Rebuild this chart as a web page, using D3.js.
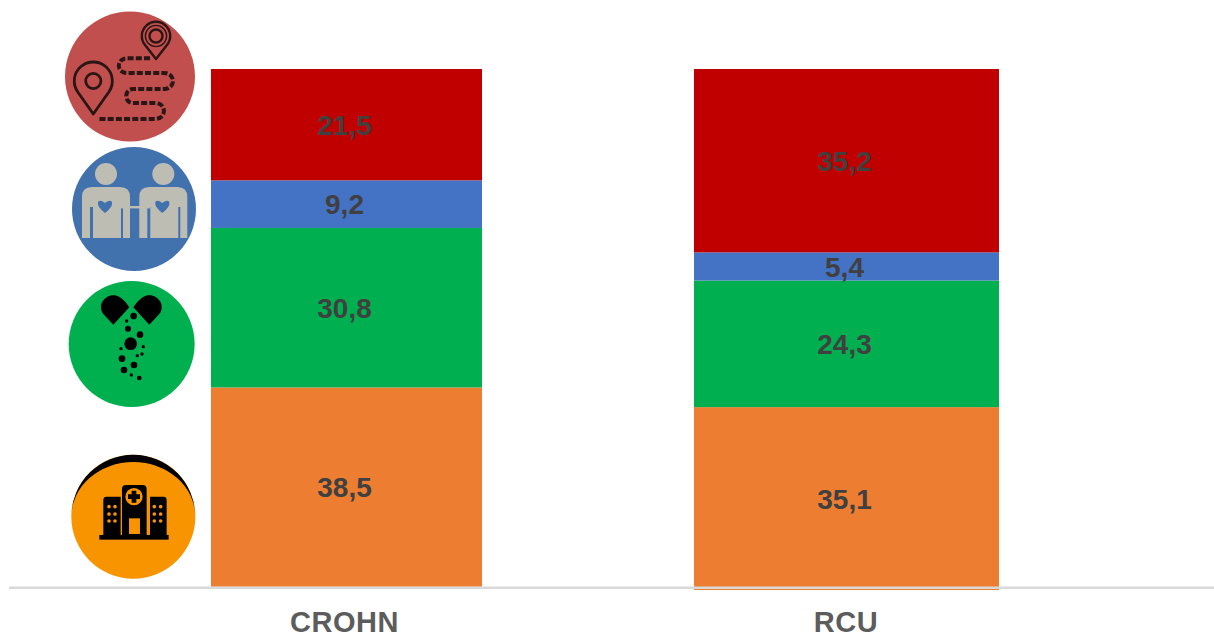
<!DOCTYPE html>
<html>
<head>
<meta charset="utf-8">
<script src="https://cdn.jsdelivr.net/npm/d3@7/dist/d3.min.js"></script>
<style>
  html, body { margin: 0; padding: 0; background: #fff; }
  svg { display: block; font-family: "Liberation Sans", Arial, sans-serif; }
</style>
</head>
<body>
<svg id="chart" width="1214" height="636"></svg>
<script>
// Chart data, stacked from the bottom up
const categories = ["CROHN", "RCU"];
const seriesNames = ["hospital", "medication", "partner", "journey"];
const hospital = [38.5, 35.1];
const medication = [30.8, 24.3];
const partner = [9.2, 5.4];
const journey = [21.5, 35.2];
const seriesColors = ["#ed7d31", "#00b050", "#4472c4", "#c00000"];

const rows = categories.map((c, i) => ({
  category: c, hospital: hospital[i], medication: medication[i],
  partner: partner[i], journey: journey[i]
}));

// Layout
const W = 1214, H = 636;
const plotTop = 69;
const baseline = { CROHN: 586.8, RCU: 590 };
const barWidth = { CROHN: 271, RCU: 305 };
const svg = d3.select("#chart");

const x = d3.scaleBand().domain(categories).range([96.5, 1096.5]);
const yFor = c => d3.scaleLinear().domain([0, 100]).range([baseline[c], plotTop]);
const stack = d3.stack().keys(seriesNames)(rows);
const fmt = v => d3.format(".1f")(v).replace(".", ",");

// Stacked segments and their value labels
const layers = svg.selectAll("g.layer").data(stack).join("g")
  .attr("class", "layer").attr("fill", (d, i) => seriesColors[i]);

layers.selectAll("rect").data(d => d.map(s => ({ s, c: s.data.category }))).join("rect")
  .attr("x", d => x(d.c) + x.bandwidth() / 2 - barWidth[d.c] / 2)
  .attr("width", d => barWidth[d.c])
  .attr("y", d => yFor(d.c)(d.s[1]))
  .attr("height", d => yFor(d.c)(d.s[0]) - yFor(d.c)(d.s[1]));

layers.selectAll("text").data(d => d.map(s => ({ s, c: s.data.category }))).join("text")
  .attr("x", d => x(d.c) + x.bandwidth() / 2 - 2)
  .attr("y", d => yFor(d.c)((d.s[0] + d.s[1]) / 2))
  .attr("dy", "0.36em")
  .attr("text-anchor", "middle")
  .attr("font-size", 28)
  .attr("font-weight", 700)
  .attr("fill", "#404040")
  .text(d => fmt(d.s[1] - d.s[0]));

// Baseline rule across the full width
svg.append("line")
  .attr("x1", 9).attr("x2", W)
  .attr("y1", 587.7).attr("y2", 587.7)
  .attr("stroke", "#d9d9d9").attr("stroke-width", 2.4);

// Category axis
const axis = svg.append("g")
  .attr("transform", "translate(0,587)")
  .call(d3.axisBottom(x).tickSize(0));
axis.select(".domain").remove();
axis.selectAll("text")
  .attr("y", 0)
  .attr("dy", 44.5)
  .attr("dx", d => d === "CROHN" ? -2 : -0.5)
  .attr("font-family", "'Liberation Sans', Arial, sans-serif")
  .attr("font-size", 29)
  .attr("font-weight", 700)
  .attr("letter-spacing", 0.5)
  .attr("fill", "#5c5c5c");

// Round pictograms to the left of the first bar
const defs = svg.append("defs");
defs.append("filter").attr("id", "soft")
  .append("feGaussianBlur").attr("stdDeviation", 0.7);
defs.append("filter").attr("id", "softer")
  .append("feGaussianBlur").attr("stdDeviation", 0.35);

const ink = "#2a1512";
const pin = (g, cx, cy, r, tip, inner, sw) => {
  const a = Math.asin(r / (tip - cy));
  const dx = r * Math.cos(a), dy = r * Math.sin(a);
  g.append("path")
    .attr("d", `M${cx},${tip} L${cx - dx},${cy + dy} A${r},${r} 0 1 1 ${cx + dx},${cy + dy} Z`)
    .attr("fill", "none").attr("stroke", ink).attr("stroke-width", sw)
    .attr("stroke-linejoin", "round");
  g.append("circle").attr("cx", cx).attr("cy", cy).attr("r", inner)
    .attr("fill", "none").attr("stroke", ink).attr("stroke-width", sw);
};

// Journey icon
const i1 = svg.append("g").attr("filter", "url(#softer)");
i1.append("circle").attr("cx", 130).attr("cy", 76.5).attr("r", 65).attr("fill", "#c0504d");
pin(i1, 93.3, 81, 19, 114, 7.6, 2.8);
pin(i1, 156, 36, 14.2, 59, 6.5, 2.4);
i1.append("circle").attr("cx", 156).attr("cy", 36).attr("r", 10.6)
  .attr("fill", "none").attr("stroke", ink).attr("stroke-width", 1.4);
i1.append("path")
  .attr("d", "M150,58.3 H127 C116,58.3 116,73 127,73 H164 C176,73 176,89 164,89 H133 C124,89 124,103 133,103 H155 C167,103 167,119 155,119 H98")
  .attr("fill", "none").attr("stroke", ink).attr("stroke-width", 4)
  .attr("stroke-dasharray", "6 2.2");

// Partner icon
svg.append("circle").attr("cx", 134).attr("cy", 209).attr("r", 62).attr("fill", "#4272ae");
const i2 = svg.append("g").attr("filter", "url(#soft)");
[0, 57.3].forEach(dx => {
  const f = i2.append("g").attr("transform", `translate(${dx},0)`).attr("fill", "#bdbdb3");
  f.append("circle").attr("cx", 106).attr("cy", 174).attr("r", 11);
  f.append("path").attr("d", "M82,238 V197 Q82,187 92,187 H120 Q130,187 130,197 V238 H123 V207 H121 V238 H93 V207 H90 V238 Z");
  f.append("path").attr("d", "M98,202 Q100,199 105,203 Q110,199 112,202 Q113,207 105,213 Q97,207 98,202 Z")
    .attr("fill", "#4272ae");
});
i2.append("rect").attr("x", 118).attr("y", 206).attr("width", 32).attr("height", 2.4).attr("fill", "#bdbdb3");

// Medication icon
const i3 = svg.append("g").attr("filter", "url(#softer)")
  .attr("transform", "translate(50,270) scale(0.3333)");
i3.append("circle").attr("cx", 245).attr("cy", 222).attr("r", 189).attr("fill", "#00b050");
i3.append("path").attr("d", "M238,112 L190,164 L160,132 C140,105 165,72 195,76 C215,80 228,98 238,112 Z");
i3.append("path").attr("d", "M250,112 L298,164 L328,132 C348,105 323,72 293,76 C273,80 260,98 250,112 Z");
const specks = [[251,138,10],[230,153,5],[234,176,9],[270,194,10],[242,221,19],[213,236,5],[280,230,5],
                [216,266,10],[262,257,5],[276,252,5],[252,285,10],[222,300,10],[244,315,5],[268,324,7]];
i3.selectAll("circle.speck").data(specks).join("circle").attr("class", "speck")
  .attr("cx", d => d[0]).attr("cy", d => d[1]).attr("r", d => d[2]).attr("fill", "#000");

// Hospital icon
const i4 = svg.append("g").attr("filter", "url(#softer)")
  .attr("transform", "translate(50,270) scale(0.3333)");
i4.append("circle").attr("cx", 250).attr("cy", 740).attr("r", 186).attr("fill", "#f79400");
i4.append("path").attr("d", "M64,740 A186,186 0 0 1 436,740 A184,162 0 0 0 64,740 Z").attr("fill", "#000");
i4.append("rect").attr("x", 148).attr("y", 795).attr("width", 208).attr("height", 14);
i4.append("path").attr("d", "M160,800 V690 Q160,680 170,680 H212 V800 Z");
i4.append("path").attr("d", "M350,800 V690 Q350,680 340,680 H300 V800 Z");
i4.append("path").attr("d", "M216,800 V657 Q216,645 228,645 H278 Q290,645 290,657 V800 Z");
i4.append("circle").attr("cx", 252).attr("cy", 680).attr("r", 26).attr("fill", "#f79400");
i4.append("path").attr("d", "M245,662 H259 V673 H270 V687 H259 V698 H245 V687 H234 V673 H245 Z");
i4.append("rect").attr("x", 237).attr("y", 745).attr("width", 33).attr("height", 47).attr("fill", "#f79400");
const windows = d3.cross([177, 195, 313, 332], [710, 732, 753]);
i4.selectAll("circle.win").data(windows).join("circle").attr("class", "win")
  .attr("cx", d => d[0]).attr("cy", d => d[1]).attr("r", 5.5).attr("fill", "#f79400");
</script>
</body>
</html>
